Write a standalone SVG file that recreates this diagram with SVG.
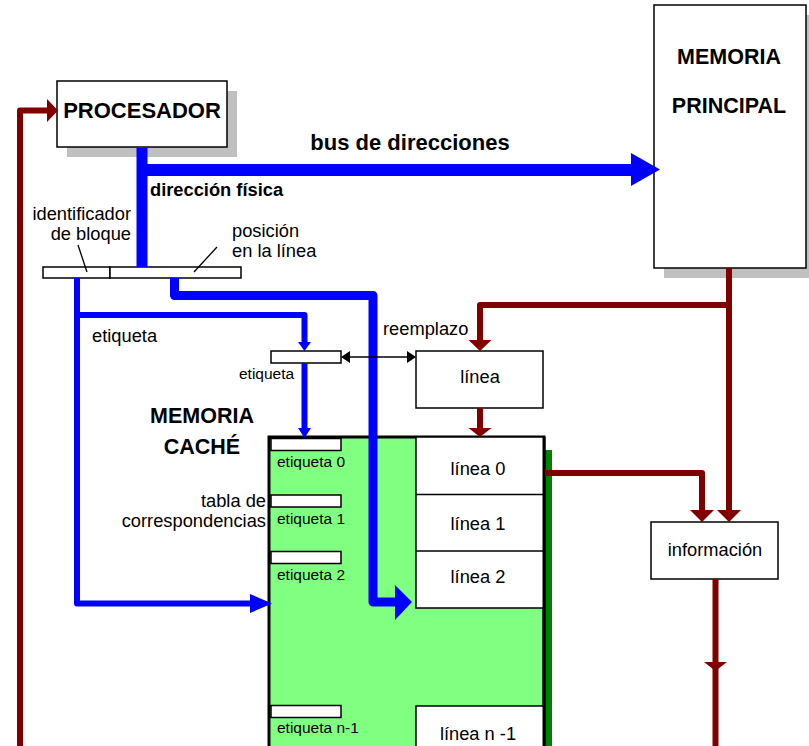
<svg xmlns="http://www.w3.org/2000/svg" width="809" height="746" viewBox="0 0 809 746">
<style>
.t{font-family:"Liberation Sans",Arial,sans-serif;fill:#000}
.b{font-weight:bold;font-size:21.5px}
.n{font-size:18.3px}
.s{font-size:15.5px}
.m{text-anchor:middle}
.e{text-anchor:end}
.box{fill:#fff;stroke:#000;stroke-width:1.5}
.sh{fill:#c0c0c0}
.bl{fill:none;stroke:#0000ff;stroke-linejoin:round;stroke-linecap:butt}
.rd{fill:none;stroke:#800000;stroke-width:6;stroke-linejoin:round}
.ab{fill:#0000ff}
.ar{fill:#800000}
.ak{fill:#000}
.ln{stroke:#000;stroke-width:1.3;fill:none}
</style>
<rect width="809" height="746" fill="#fff"/>

<g id="procesador">
<rect class="sh" x="67" y="91" width="170" height="66"/>
<rect class="box" x="57" y="81" width="170" height="66"/>
<text class="t b m" x="142" y="118" style="font-size:22px">PROCESADOR</text>
</g>

<g id="memoria-principal">
<rect class="sh" x="664" y="15" width="152" height="263"/>
<rect class="box" x="654" y="5" width="152" height="263"/>
<text class="t b m" x="729" y="64">MEMORIA</text>
<text class="t b m" x="729" y="113">PRINCIPAL</text>
</g>

<g id="direccion-fisica">
<rect class="box" x="43" y="267" width="67" height="11"/>
<rect class="box" x="110" y="267" width="131" height="11"/>
<text class="t b" x="150" y="196" style="font-size:18.3px">dirección física</text>
<text class="t n e" x="131" y="220">identificador</text>
<text class="t n e" x="131" y="240">de bloque</text>
<text class="t n" x="232" y="237">posición</text>
<text class="t n" x="232" y="257">en la línea</text>
<path class="ln" d="M78,245 L87,272 M217,247 L194,272"/>
</g>

<g id="etiqueta-buscada">
<rect class="box" x="271" y="351" width="70" height="12"/>
<text class="t s" x="239" y="379">etiqueta</text>
</g>

<g id="linea">
<rect class="box" x="416" y="351" width="127" height="57"/>
<text class="t n m" x="480" y="383">línea</text>
</g>

<g id="informacion">
<rect class="box" x="651" y="522" width="127" height="57"/>
<text class="t n m" x="715" y="556">información</text>
</g>

<g id="memoria-cache">
<rect x="545" y="450" width="7" height="300" fill="#008000"/>
<rect x="269" y="437" width="275" height="330" fill="#80ff80" stroke="#000" stroke-width="3"/>
<rect class="box" x="416" y="437" width="128" height="171"/>
<path class="ln" d="M416,494.5 H544 M416,551 H544" style="stroke-width:1.5"/>
<rect class="box" x="416" y="706" width="128" height="60"/>
<path d="M544,437 V746" stroke="#000" stroke-width="3"/>
<rect class="box" x="271" y="438.5" width="70" height="12"/>
<rect class="box" x="271" y="495" width="70" height="12"/>
<rect class="box" x="271" y="551.5" width="70" height="12"/>
<rect class="box" x="271" y="705.5" width="70" height="12"/>
<text class="t s" x="277" y="467">etiqueta 0</text>
<text class="t s" x="277" y="524">etiqueta 1</text>
<text class="t s" x="277" y="580">etiqueta 2</text>
<text class="t s" x="277" y="733">etiqueta n-1</text>
<text class="t n m" x="478" y="475">línea 0</text>
<text class="t n m" x="478" y="530">línea 1</text>
<text class="t n m" x="478" y="583">línea 2</text>
<text class="t n m" x="478" y="740">línea n -1</text>
<text class="t b m" x="202" y="423">MEMORIA</text>
<text class="t b m" x="202" y="454">CACHÉ</text>
<text class="t n e" x="266" y="507">tabla de</text>
<text class="t n e" x="266" y="527">correspondencias</text>
</g>

<g id="connectors">
<path class="bl" d="M142,148 V267" stroke-width="11"/>
<path class="bl" d="M137,170 H633" stroke-width="12"/>
<polygon class="ab" points="631,153 660,169.5 631,186"/>
<text class="t b m" x="410" y="150" style="font-size:22px">bus de direcciones</text>

<path class="bl" d="M174.5,278 V295.5 H373 V602 H398" stroke-width="9"/>
<polygon class="ab" points="395,585 412,602 395,620"/>

<path class="bl" d="M77,278 V603.5 H255" stroke-width="6"/>
<polygon class="ab" points="250,594 272,603.5 250,613"/>

<path class="bl" d="M77,315 H304.5 V344" stroke-width="6"/>
<polygon class="ab" points="298,342 304.5,351 311,342"/>
<text class="t n" x="92" y="342">etiqueta</text>

<path class="bl" d="M304.5,363 V430" stroke-width="6"/>
<polygon class="ab" points="298,428 304.5,438 311,428"/>

<path class="ln" d="M349,357 H408"/>
<polygon class="ak" points="341,357 350,351 350,363"/>
<polygon class="ak" points="416,357 407,351 407,363"/>
<text class="t n" x="383" y="335">reemplazo</text>

<path class="rd" d="M729,268 V512"/>
<polygon class="ar" points="717,510 729,522 741,510"/>
<path class="rd" d="M729,305 H480 V342"/>
<polygon class="ar" points="468.5,340 480,351 491.5,340"/>
<path class="rd" d="M480,408 V430"/>
<polygon class="ar" points="468.5,428 480,437 491.5,428"/>
<path class="rd" d="M545,473 H702 V512"/>
<polygon class="ar" points="690,510 702,522 714,510"/>
<path class="rd" d="M715.5,579 V746"/>
<polygon class="ar" points="704,662 715.5,671 727,662"/>
<path class="rd" d="M20,746 V110.5 H49"/>
<polygon class="ar" points="47,99 58,110.5 47,122"/>
</g>
</svg>
